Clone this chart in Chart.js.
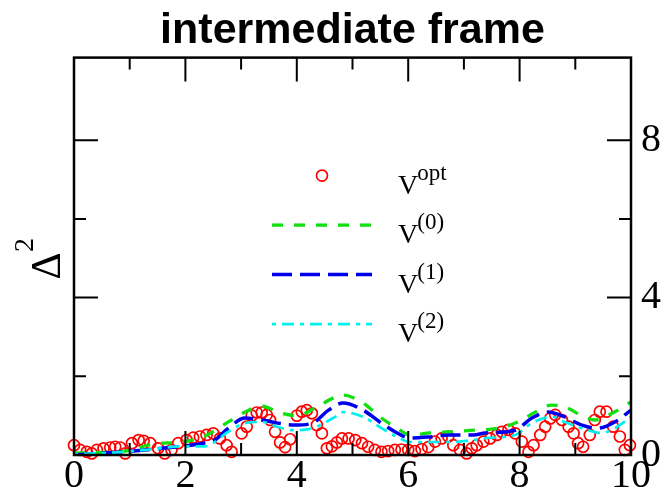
<!DOCTYPE html>
<html>
<head>
<meta charset="utf-8">
<script src="https://cdn.jsdelivr.net/npm/chart.js@4.4.1/dist/chart.umd.min.js"></script>
<style>
  html, body { margin: 0; padding: 0; background: #fff; }
</style>
</head>
<body>
<canvas id="chart" width="664" height="499"></canvas>
<script>
// V^opt (red circles)
const optX = [0.00, 0.11, 0.23, 0.32, 0.41, 0.53, 0.65, 0.74, 0.83, 0.92,
              1.04, 1.16, 1.25, 1.37, 1.51, 1.63, 1.75, 1.87, 2.02, 2.14,
              2.26, 2.38, 2.50, 2.62, 2.74, 2.83, 3.01, 3.10, 3.19, 3.28,
              3.37, 3.46, 3.52, 3.61, 3.70, 3.79, 3.88, 4.00, 4.09, 4.18,
              4.27, 4.36, 4.45, 4.54, 4.63, 4.72, 4.81, 4.93, 5.05, 5.17,
              5.28, 5.40, 5.52, 5.64, 5.76, 5.88, 6.00, 6.12, 6.24, 6.36,
              6.48, 6.60, 6.72, 6.81, 6.93, 7.05, 7.14, 7.23, 7.35, 7.47,
              7.59, 7.68, 7.80, 7.92, 8.04, 8.16, 8.25, 8.37, 8.46, 8.55,
              8.64, 8.76, 8.88, 8.97, 9.05, 9.14, 9.26, 9.35, 9.44, 9.56,
              9.68, 9.80, 9.89, 9.98];
const optY = [0.25, 0.13, 0.08, 0.04, 0.13, 0.17, 0.19, 0.21, 0.19, 0.04,
              0.30, 0.38, 0.36, 0.30, 0.17, 0.04, 0.13, 0.30, 0.38, 0.44,
              0.47, 0.51, 0.55, 0.42, 0.25, 0.08, 0.55, 0.72, 1.00, 1.08,
              1.08, 1.02, 0.89, 0.59, 0.32, 0.20, 0.40, 1.00, 1.10, 1.14,
              1.06, 0.76, 0.55, 0.17, 0.22, 0.32, 0.42, 0.42, 0.38, 0.30,
              0.21, 0.13, 0.08, 0.10, 0.13, 0.14, 0.13, 0.10, 0.15, 0.20,
              0.34, 0.42, 0.47, 0.25, 0.13, 0.04, 0.17, 0.25, 0.34, 0.42,
              0.51, 0.59, 0.64, 0.55, 0.34, 0.08, 0.25, 0.51, 0.72, 0.93,
              1.02, 0.89, 0.72, 0.55, 0.30, 0.21, 0.51, 0.89, 1.10, 1.10,
              0.72, 0.47, 0.13, 0.25];

// V(0) green dashed
const v0X = [0, 0.41, 0.91, 1.42, 1.92, 2.32, 2.77, 3.07, 3.37, 3.72, 4.02, 4.33, 4.69, 4.83, 5.19,
             5.49, 5.80, 6.03, 6.39, 6.73, 7.17, 7.61, 7.97, 8.28, 8.58, 8.81, 9.12, 9.36, 9.66, 10];
const v0Y = [0.05, 0.06, 0.10, 0.28, 0.33, 0.46, 0.84, 1.09, 1.24, 1.06, 1.00, 1.20, 1.47, 1.52, 1.32,
             0.97, 0.68, 0.51, 0.56, 0.59, 0.63, 0.68, 0.84, 1.09, 1.27, 1.22, 1.00, 0.89, 1.06, 1.35];

// V(1) blue dashed
const v1X = [0, 0.41, 0.91, 1.42, 1.92, 2.32, 2.53, 2.77, 3.07, 3.37, 3.66, 3.96, 4.28, 4.57, 4.83, 5.19,
             5.49, 5.80, 6.03, 6.39, 6.73, 7.17, 7.38, 7.92, 8.22, 8.51, 8.81, 9.12, 9.40, 9.71, 10];
const v1Y = [0.00, 0.04, 0.08, 0.15, 0.22, 0.30, 0.38, 0.68, 0.94, 0.89, 0.81, 0.76, 0.81, 1.14, 1.32, 1.14,
             0.84, 0.56, 0.43, 0.46, 0.51, 0.51, 0.56, 0.63, 0.94, 1.09, 0.97, 0.76, 0.68, 0.84, 1.14];

// V(2) cyan dash-dot
const v2X = [0, 0.41, 0.91, 1.42, 1.92, 2.35, 2.77, 3.07, 3.37, 3.66, 3.96, 4.28, 4.69, 4.83, 5.19,
             5.49, 5.80, 6.03, 6.39, 6.73, 7.17, 7.38, 7.92, 8.22, 8.58, 8.81, 9.12, 9.47, 9.71, 10];
const v2Y = [0.02, 0.04, 0.08, 0.15, 0.22, 0.22, 0.59, 0.81, 0.84, 0.71, 0.63, 0.68, 0.97, 1.09, 0.97,
             0.71, 0.46, 0.33, 0.33, 0.33, 0.38, 0.43, 0.51, 0.81, 0.97, 0.84, 0.68, 0.56, 0.68, 0.97];

const xTicks = [0, 2, 4, 6, 8, 10];
const yTicks = [0, 4, 8];
const legendNames = [["V", "opt"], ["V", "(0)"], ["V", "(1)"], ["V", "(2)"]];

const pts = (xs, ys) => xs.map((x, i) => ({ x: x, y: ys[i] }));

// box + inward ticks on all four sides
const framePlugin = {
  id: 'frame',
  afterDatasetsDraw(chart) {
    const { ctx, chartArea: a, scales } = chart;
    const xs = scales.x, ys = scales.y;
    ctx.save();
    ctx.strokeStyle = '#000';
    ctx.lineWidth = 2;
    ctx.beginPath();
    for (let v = 1; v < 10; v++) {
      const px = xs.getPixelForValue(v);
      const len = v % 2 === 0 ? 24 : 12;
      ctx.moveTo(px, a.bottom); ctx.lineTo(px, a.bottom - len);
      ctx.moveTo(px, a.top); ctx.lineTo(px, a.top + len);
    }
    for (let v = 2; v < 10; v += 2) {
      const py = ys.getPixelForValue(v);
      const len = v % 4 === 0 ? 24 : 12;
      ctx.moveTo(a.left, py); ctx.lineTo(a.left + len, py);
      ctx.moveTo(a.right, py); ctx.lineTo(a.right - len, py);
    }
    ctx.stroke();
    ctx.lineWidth = 2.5;
    ctx.strokeRect(a.left, a.top, a.right - a.left, a.bottom - a.top);
    ctx.restore();
  }
};

// legend inside the plot, with superscripts
const legendPlugin = {
  id: 'insideLegend',
  afterDatasetsDraw(chart) {
    const { ctx, chartArea: a } = chart;
    const x0 = a.left + 198, x1 = a.left + 298, tx = a.left + 324;
    chart.data.datasets.forEach((ds, i) => {
      const y = a.top + 118 + i * 49.5;
      ctx.save();
      if (ds.showLine === false) {
        ctx.beginPath();
        ctx.arc((x0 + x1) / 2, y, ds.pointRadius, 0, Math.PI * 2);
        ctx.strokeStyle = ds.pointBorderColor;
        ctx.lineWidth = ds.pointBorderWidth;
        ctx.stroke();
      } else {
        ctx.setLineDash(ds.borderDash);
        ctx.strokeStyle = ds.borderColor;
        ctx.lineWidth = ds.borderWidth;
        ctx.beginPath();
        ctx.moveTo(x0, y); ctx.lineTo(x1, y);
        ctx.stroke();
      }
      ctx.fillStyle = '#000';
      ctx.textBaseline = 'alphabetic';
      ctx.font = '28px "Liberation Serif"';
      ctx.fillText(legendNames[i][0], tx, y + 18);
      const w = ctx.measureText(legendNames[i][0]).width;
      ctx.font = '23px "Liberation Serif"';
      ctx.fillText(legendNames[i][1], tx + w - 1, y + 4);
      ctx.restore();
    });
  }
};

// rotated Δ² axis label on the left
const yTitlePlugin = {
  id: 'yTitle',
  afterDraw(chart) {
    const { ctx, chartArea: a } = chart;
    ctx.save();
    ctx.translate(a.left - 29, 266);
    ctx.rotate(-Math.PI / 2);
    ctx.fillStyle = '#000';
    ctx.textBaseline = 'alphabetic';
    ctx.textAlign = 'center';
    ctx.font = '42px "Liberation Serif"';
    ctx.fillText('\u0394', 0, 15);
    ctx.textAlign = 'left';
    ctx.font = '28px "Liberation Serif"';
    ctx.fillText('2', 14, -12);
    ctx.restore();
  }
};

new Chart(document.getElementById('chart'), {
  type: 'line',
  data: {
    datasets: [
      {
        label: 'Vopt',
        data: pts(optX, optY),
        showLine: false,
        pointStyle: 'circle',
        pointRadius: 5.5,
        pointBorderWidth: 1.7,
        pointBorderColor: '#ff0000',
        pointBackgroundColor: 'rgba(0,0,0,0)',
        borderColor: '#ff0000',
        clip: false,
        order: 4
      },
      {
        label: 'V0',
        data: pts(v0X, v0Y),
        borderColor: '#10e010',
        borderWidth: 3.3,
        borderDash: [11, 11],
        pointRadius: 0,
        cubicInterpolationMode: 'monotone',
        order: 3
      },
      {
        label: 'V1',
        data: pts(v1X, v1Y),
        borderColor: '#0000ee',
        borderWidth: 3.5,
        borderDash: [20, 8],
        pointRadius: 0,
        cubicInterpolationMode: 'monotone',
        order: 2
      },
      {
        label: 'V2',
        data: pts(v2X, v2Y),
        borderColor: '#00f0f0',
        borderWidth: 2.7,
        borderDash: [4, 6, 12, 6],
        pointRadius: 0,
        cubicInterpolationMode: 'monotone',
        order: 1
      }
    ]
  },
  options: {
    responsive: false,
    animation: false,
    layout: { padding: { left: 74, right: 0, top: 0, bottom: 0 } },
    plugins: {
      legend: { display: false },
      tooltip: { enabled: false },
      title: {
        display: true,
        fullSize: false,
        text: 'intermediate frame',
        color: '#000',
        font: { family: '"Liberation Sans", Arial, sans-serif', size: 43, weight: 'bold', lineHeight: 1.2 },
        padding: { top: 5, bottom: 1 }
      }
    },
    scales: {
      x: {
        type: 'linear',
        min: 0,
        max: 10,
        grid: { display: false, drawTicks: false },
        border: { display: false },
        afterBuildTicks: s => { s.ticks = xTicks.map(v => ({ value: v })); },
        afterFit: s => { s.height = 44; },
        ticks: {
          color: '#000',
          padding: -3,
          maxRotation: 0,
          autoSkip: false,
          font: { family: '"Liberation Serif", serif', size: 40 }
        }
      },
      y: {
        position: 'right',
        min: 0,
        max: 10.1,
        grid: { display: false, drawTicks: false },
        border: { display: false },
        afterBuildTicks: s => { s.ticks = yTicks.map(v => ({ value: v })); },
        afterFit: s => { s.width = 33; },
        ticks: {
          color: '#000',
          padding: 10,
          autoSkip: false,
          font: { family: '"Liberation Serif", serif', size: 40 }
        }
      }
    }
  },
  plugins: [framePlugin, legendPlugin, yTitlePlugin]
});
</script>
</body>
</html>
